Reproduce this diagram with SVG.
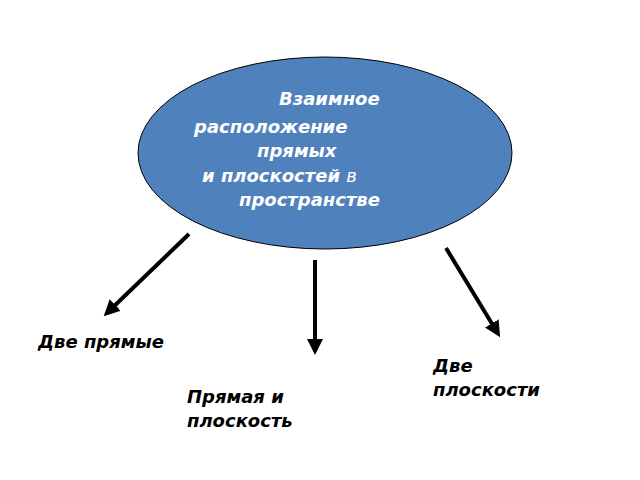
<svg xmlns="http://www.w3.org/2000/svg" width="640" height="480" viewBox="0 0 640 480">
<style>
.t{font-family:"DejaVu Sans",sans-serif;font-weight:bold;font-style:italic;font-size:18px}
.w{fill:#fff}
.k{fill:#000}
.c{stroke:#000;stroke-width:4;fill:none;marker-end:url(#a)}
</style>
<defs><marker id="a" markerWidth="4" markerHeight="4" refX="2.5" refY="2" orient="auto"><path d="M0,0L4,2L0,4Z" fill="#000"/></marker></defs>
<rect width="640" height="480" fill="#fff"/>
<g id="center">
<ellipse cx="325" cy="153" rx="187" ry="96" fill="#4f81bd" stroke="#000" stroke-width="1"/>
<text class="t w" x="279" y="105">Взаимное</text>
<text class="t w" x="194" y="133">расположение</text>
<text class="t w" x="257" y="157">прямых</text>
<text class="t w" x="202" y="182">и плоскостей <tspan font-weight="normal">в</tspan></text>
<text class="t w" x="239" y="206">пространстве</text>
</g>
<g id="connectors">
<line class="c" x1="189" y1="234" x2="108" y2="312"/>
<line class="c" x1="315" y1="260" x2="315" y2="349"/>
<line class="c" x1="446" y1="248" x2="497" y2="332"/>
</g>
<g id="n1"><text class="t k" x="38" y="348">Две прямые</text></g>
<g id="n2"><text class="t k" x="187" y="403">Прямая и</text><text class="t k" x="187" y="427">плоскость</text></g>
<g id="n3"><text class="t k" x="433" y="372">Две</text><text class="t k" x="433" y="396">плоскости</text></g>
</svg>
